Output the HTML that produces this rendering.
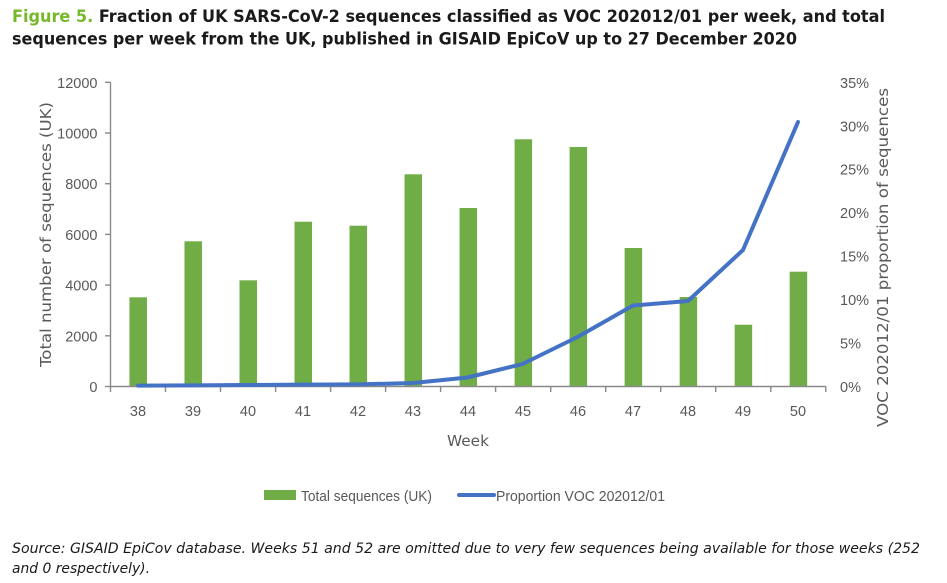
<!DOCTYPE html>
<html>
<head>
<meta charset="utf-8">
<style>
  html, body { margin:0; padding:0; background:#fff; }
  body { width:947px; height:583px; overflow:hidden; }
  svg { display:block; }
  .tick { font-family:"Liberation Sans", sans-serif; font-size:14.5px; fill:#595959; }
  .ttl { font-family:"DejaVu Sans", "Liberation Sans", sans-serif; font-size:15px; fill:#595959; }
</style>
</head>
<body>
<svg width="947" height="583" viewBox="0 0 947 583" xmlns="http://www.w3.org/2000/svg">
  <rect width="947" height="583" fill="#fff"/>

  <!-- Title -->
  <text x="12" y="22" font-family="DejaVu Sans, Liberation Sans, sans-serif" font-weight="bold" font-size="17px" fill="#1a1a1a" textLength="873" lengthAdjust="spacingAndGlyphs"><tspan fill="#77B82B">Figure 5.</tspan> Fraction of UK SARS-CoV-2 sequences classified as VOC 202012/01 per week, and total</text>
  <text x="12" y="44.5" font-family="DejaVu Sans, Liberation Sans, sans-serif" font-weight="bold" font-size="17px" fill="#1a1a1a" textLength="785" lengthAdjust="spacingAndGlyphs">sequences per week from the UK, published in GISAID EpiCoV up to 27 December 2020</text>

  <!-- Bars -->
  <g fill="#70AD47">
    <rect x="129.45" y="297.3" width="17.5" height="89.2"/>
    <rect x="184.47" y="241.3" width="17.5" height="145.2"/>
    <rect x="239.49" y="280.3" width="17.5" height="106.2"/>
    <rect x="294.51" y="221.7" width="17.5" height="164.8"/>
    <rect x="349.53" y="225.7" width="17.5" height="160.8"/>
    <rect x="404.55" y="174.3" width="17.5" height="212.2"/>
    <rect x="459.57" y="208" width="17.5" height="178.5"/>
    <rect x="514.59" y="139.3" width="17.5" height="247.2"/>
    <rect x="569.61" y="147" width="17.5" height="239.5"/>
    <rect x="624.63" y="248" width="17.5" height="138.5"/>
    <rect x="679.65" y="297" width="17.5" height="89.5"/>
    <rect x="734.67" y="324.7" width="17.5" height="61.8"/>
    <rect x="789.69" y="271.7" width="17.5" height="114.8"/>
  </g>

  <!-- Axes -->
  <g stroke="#898989" stroke-width="1.4" fill="none">
    <line x1="110.5" y1="82.3" x2="110.5" y2="386.5"/>
    <line x1="110.5" y1="386.5" x2="826" y2="386.5"/>
    <!-- y ticks -->
    <line x1="105" y1="82.3" x2="110.5" y2="82.3"/>
    <line x1="105" y1="133" x2="110.5" y2="133"/>
    <line x1="105" y1="183.7" x2="110.5" y2="183.7"/>
    <line x1="105" y1="234.4" x2="110.5" y2="234.4"/>
    <line x1="105" y1="285.1" x2="110.5" y2="285.1"/>
    <line x1="105" y1="335.8" x2="110.5" y2="335.8"/>
    <line x1="105" y1="386.5" x2="110.5" y2="386.5"/>
    <!-- x ticks -->
    <line x1="110.5" y1="386.5" x2="110.5" y2="392"/>
    <line x1="165.5" y1="386.5" x2="165.5" y2="392"/>
    <line x1="220.5" y1="386.5" x2="220.5" y2="392"/>
    <line x1="275.6" y1="386.5" x2="275.6" y2="392"/>
    <line x1="330.6" y1="386.5" x2="330.6" y2="392"/>
    <line x1="385.6" y1="386.5" x2="385.6" y2="392"/>
    <line x1="440.6" y1="386.5" x2="440.6" y2="392"/>
    <line x1="495.6" y1="386.5" x2="495.6" y2="392"/>
    <line x1="550.7" y1="386.5" x2="550.7" y2="392"/>
    <line x1="605.7" y1="386.5" x2="605.7" y2="392"/>
    <line x1="660.7" y1="386.5" x2="660.7" y2="392"/>
    <line x1="715.7" y1="386.5" x2="715.7" y2="392"/>
    <line x1="770.8" y1="386.5" x2="770.8" y2="392"/>
    <line x1="825.8" y1="386.5" x2="825.8" y2="392"/>
  </g>

  <!-- Line series -->
  <polyline fill="none" stroke="#4472C4" stroke-width="4" stroke-linejoin="round" stroke-linecap="round"
    points="138,385.6 193,385.4 248,385 303,384.6 358,384.4 413,383 467.5,377.5 522.5,364 577.5,337 633,305.5 688,301 743,250 798,122"/>

  <!-- Left tick labels -->
  <g class="tick" text-anchor="end">
    <text x="97.5" y="87.8">12000</text>
    <text x="97.5" y="138.5">10000</text>
    <text x="97.5" y="189.2">8000</text>
    <text x="97.5" y="239.9">6000</text>
    <text x="97.5" y="290.6">4000</text>
    <text x="97.5" y="341.3">2000</text>
    <text x="97.5" y="392">0</text>
  </g>

  <!-- Right tick labels -->
  <g class="tick" text-anchor="start">
    <text x="840" y="87.8">35%</text>
    <text x="840" y="131.3">30%</text>
    <text x="840" y="174.7">25%</text>
    <text x="840" y="218.2">20%</text>
    <text x="840" y="261.7">15%</text>
    <text x="840" y="305.1">10%</text>
    <text x="840" y="348.6">5%</text>
    <text x="840" y="392">0%</text>
  </g>

  <!-- X tick labels -->
  <g class="tick" text-anchor="middle">
    <text x="138" y="416">38</text>
    <text x="193" y="416">39</text>
    <text x="248" y="416">40</text>
    <text x="303" y="416">41</text>
    <text x="358" y="416">42</text>
    <text x="413" y="416">43</text>
    <text x="468" y="416">44</text>
    <text x="523" y="416">45</text>
    <text x="578" y="416">46</text>
    <text x="633" y="416">47</text>
    <text x="688" y="416">48</text>
    <text x="743" y="416">49</text>
    <text x="798" y="416">50</text>
  </g>

  <!-- Axis titles -->
  <text class="ttl" x="468" y="446" text-anchor="middle" font-size="16px" textLength="42" lengthAdjust="spacingAndGlyphs">Week</text>
  <text class="ttl" transform="translate(51,367) rotate(-90)" x="0" y="0" textLength="265" lengthAdjust="spacingAndGlyphs">Total number of sequences (UK)</text>
  <text class="ttl" transform="translate(888,427) rotate(-90)" x="0" y="0" textLength="339" lengthAdjust="spacingAndGlyphs">VOC 202012/01 proportion of sequences</text>

  <!-- Legend -->
  <rect x="264" y="490" width="32" height="10" fill="#70AD47"/>
  <text class="tick" x="301" y="501" font-size="15px" textLength="131" lengthAdjust="spacingAndGlyphs">Total sequences (UK)</text>
  <line x1="459" y1="495" x2="494" y2="495" stroke="#4472C4" stroke-width="4" stroke-linecap="round"/>
  <text class="tick" x="496" y="501" font-size="15px" textLength="169" lengthAdjust="spacingAndGlyphs">Proportion VOC 202012/01</text>

  <!-- Source note -->
  <text x="12" y="553" font-family="DejaVu Sans, Liberation Sans, sans-serif" font-style="italic" font-size="14px" fill="#1a1a1a" textLength="908" lengthAdjust="spacingAndGlyphs">Source: GISAID EpiCov database. Weeks 51 and 52 are omitted due to very few sequences being available for those weeks (252</text>
  <text x="12" y="573" font-family="DejaVu Sans, Liberation Sans, sans-serif" font-style="italic" font-size="14px" fill="#1a1a1a" textLength="138" lengthAdjust="spacingAndGlyphs">and 0 respectively).</text>
</svg>
</body>
</html>
